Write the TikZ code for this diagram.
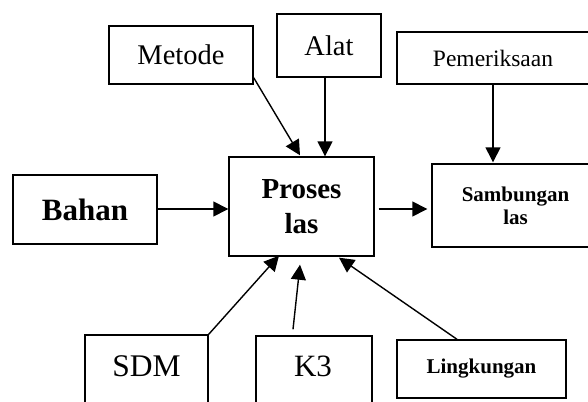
\documentclass[tikz,border=0pt]{standalone}
\usepackage{fontspec}
\setmainfont{Liberation Serif}
\usetikzlibrary{arrows.meta,calc}
\tikzset{
  box/.style={draw, line width=1.4pt, inner sep=0pt, align=center},
  conn/.style={line width=1.4pt, -{Triangle[length=15pt,width=15pt]}},
  plain/.style={line width=1.4pt}
}
\begin{document}
\begin{tikzpicture}[x=1pt,y=-1pt]
\useasboundingbox (0,0) rectangle (588,401);
\clip (0,0) rectangle (588,401);
% nodes
\node[box, minimum width=144pt, minimum height=58pt, font=\fontsize{28.5}{34}\selectfont] (metode) at (181,55) {Metode};
\node[box, minimum width=104pt, minimum height=63pt, font=\fontsize{28.5}{34}\selectfont] (alat) at (329,45.5) {Alat};
\node[box, minimum width=192pt, minimum height=52pt, font=\fontsize{23.5}{28}\selectfont] (pem) at (493,58) {Pemeriksaan};
\node[box, minimum width=144pt, minimum height=69pt, font=\fontsize{31}{36}\selectfont\bfseries] (bahan) at (85,209.5) {Bahan};
\node[box, minimum width=145pt, minimum height=99pt, font=\fontsize{29}{35}\selectfont\bfseries] (proses) at (301.5,206.5) {Proses\\las};
\node[box, minimum width=167pt, minimum height=83pt, font=\fontsize{21}{23}\selectfont\bfseries] (samb) at (515.5,205.5) {Sambungan\\las};
\node[box, minimum width=123pt, minimum height=100pt] (sdm) at (146.5,385) {};
\node[font=\fontsize{31.5}{36}\selectfont] (sdmt) at (146.5,366) {SDM};
\node[box, minimum width=116pt, minimum height=100pt] (k3) at (314,386) {};
\node[font=\fontsize{31}{36}\selectfont] (k3t) at (313,366) {K3};
\node[box, minimum width=169pt, minimum height=58pt, font=\fontsize{21}{25}\selectfont\bfseries] (ling) at (481.5,369) {Lingkungan};
% connectors
\draw[conn] ($(metode.south east)+(0,-7)$) -- ($(proses.north)+(-1.5,-1)$);
\draw[conn] ($(alat.south)+(-4,0)$) -- ($(proses.north)+(23.5,0)$);
\draw[conn] ($(pem.south)+(0,0)$) -- ($(samb.north)+(-22.5,-1)$);
\draw[conn] ($(bahan.east)+(0,-0.5)$) -- ($(proses.west)+(0,2.5)$);
\draw[conn] ($(proses.east)+(4,2.5)$) -- ($(samb.west)+(-4,3.5)$);
\draw[conn] (sdm.north east) -- ($(proses.south)+(-22.5,-1)$);
\draw[conn] ($(k3.north)+(-21,-6)$) -- ($(proses.south)+(-1.5,8)$);
\draw[conn] ($(ling.north)+(-24.5,0)$) -- ($(proses.south)+(37.5,1)$);
\end{tikzpicture}
\end{document}
